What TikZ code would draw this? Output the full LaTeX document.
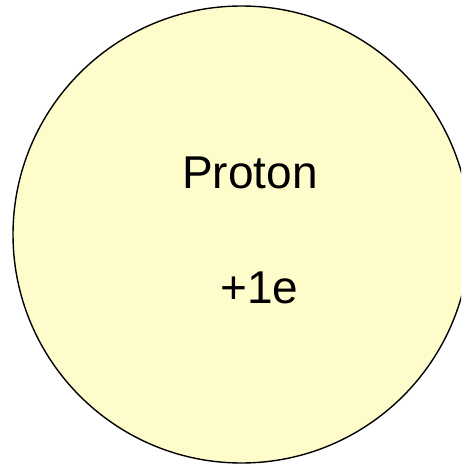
\documentclass[tikz,border=0pt]{standalone}
\usepackage{fontspec}
\setmainfont{Liberation Sans}
\usepackage{tikz}
\tikzset{
  particle/.style={circle, draw=black, line width=1.4pt, fill=yellow!20, minimum size=457pt, inner sep=0pt},
  label/.style={font=\fontsize{46}{50}\selectfont, anchor=base, inner sep=0pt}
}

\begin{document}
\begin{tikzpicture}[x=1pt, y=-1pt]
        \useasboundingbox (0,0) rectangle (461,465);
        \clip (0,0) rectangle (461,465);
        \node (proton) [particle] at (241.5,234.5) {};
        \node (name) [label] at (250,188) {Proton};
        \node (charge) [label] at (259.5,303) {+1e};
    \end{tikzpicture}
\end{document}
